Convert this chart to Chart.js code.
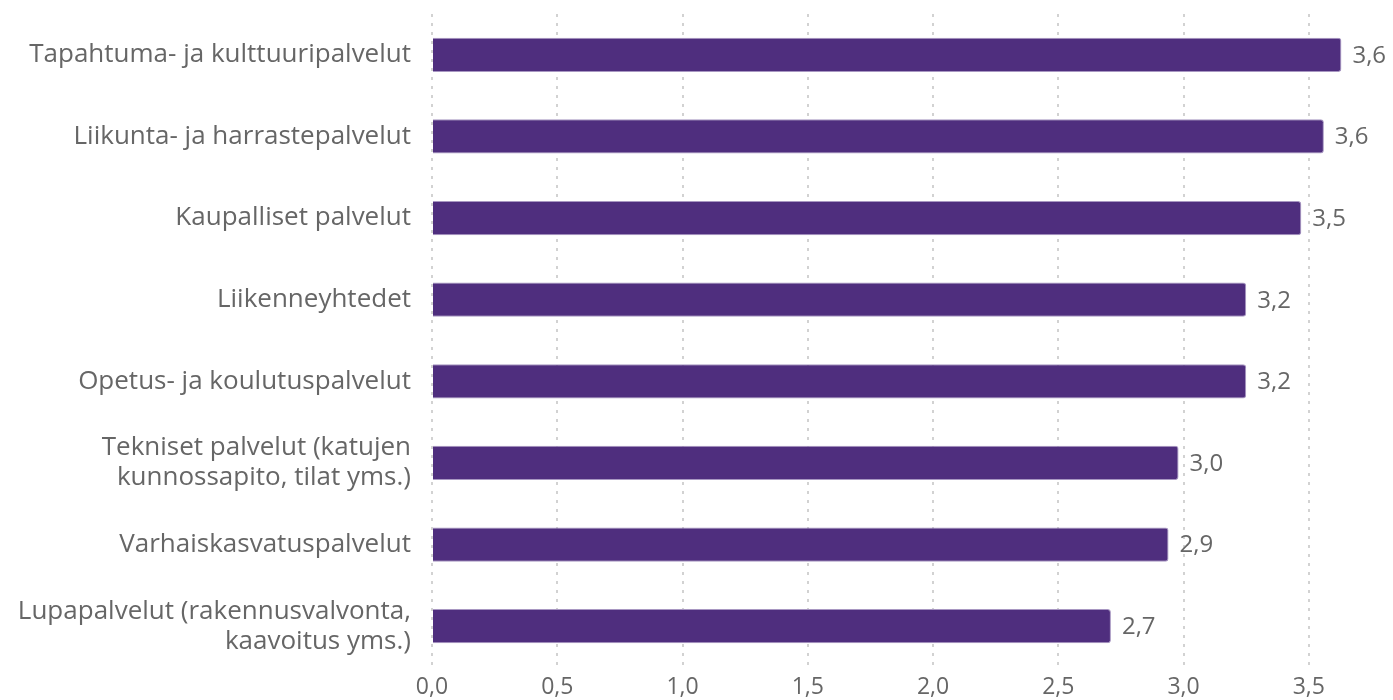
<!DOCTYPE html>
<html>
<head>
<meta charset="utf-8">
<script src="https://cdn.jsdelivr.net/npm/chart.js@4.4.1/dist/chart.umd.min.js"></script>
<style>
  html, body { margin: 0; padding: 0; background: #fff; }
  #wrap { width: 1393px; height: 700px; }
</style>
</head>
<body>
<div id="wrap"><canvas id="chart"></canvas></div>
<script>
const categories = [
    'Tapahtuma- ja kulttuuripalvelut',
    'Liikunta- ja harrastepalvelut',
    'Kaupalliset palvelut',
    'Liikenneyhtedet',
    'Opetus- ja koulutuspalvelut',
    ['Tekniset palvelut (katujen', 'kunnossapito, tilat yms.)'],
    'Varhaiskasvatuspalvelut',
    ['Lupapalvelut (rakennusvalvonta,', 'kaavoitus yms.)']
]
const values = [3.63, 3.56, 3.47, 3.25, 3.25, 2.98, 2.94, 2.71]
const valueLabels = ['3,6', '3,6', '3,5', '3,2', '3,2', '3,0', '2,9', '2,7']

const barColor = '#4f2e7e'
const textColor = '#666666'

// draws the value next to each bar
const valueLabelPlugin = {
    id: 'valueLabels',
    afterDatasetsDraw: function (chart) {
        const ctx = chart.ctx
        const meta = chart.getDatasetMeta(0)
        ctx.save()
        ctx.font = '24px "Open Sans"'
        ctx.fillStyle = textColor
        ctx.textAlign = 'left'
        ctx.textBaseline = 'middle'
        meta.data.forEach((bar, i) => {
            ctx.fillText(valueLabels[i], bar.x + 11, bar.y + 1)
        })
        ctx.restore()
    }
}

new Chart(document.getElementById('chart').getContext('2d'), {
    type: 'bar',
    data: {
        labels: categories,
        datasets: [{
            data: values,
            backgroundColor: barColor,
            borderColor: '#a897c2',
            borderWidth: 1,
            borderRadius: { topRight: 3, bottomRight: 3 },
            borderSkipped: 'left',
            categoryPercentage: 1,
            barPercentage: 0.42
        }]
    },
    options: {
        indexAxis: 'y',
        responsive: true,
        maintainAspectRatio: false,
        animation: false,
        layout: { padding: { top: 14, right: 9, left: 0, bottom: 0 } },
        plugins: {
            legend: { display: false },
            tooltip: { enabled: false }
        },
        scales: {
            x: {
                min: 0,
                max: 3.8,
                border: { display: false, dash: [3, 6] },
                grid: {
                    color: '#d2d2d2',
                    lineWidth: 2,
                    drawTicks: false
                },
                afterBuildTicks: function (scale) {
                    scale.ticks = scale.ticks.filter(t => t.value <= 3.5)
                },
                afterFit: function (scale) {
                    scale.height = 33
                },
                ticks: {
                    stepSize: 0.5,
                    color: textColor,
                    padding: 7,
                    font: { family: 'Open Sans', size: 23 },
                    callback: function (v) {
                        return v.toFixed(1).replace('.', ',')
                    }
                }
            },
            y: {
                border: { display: false },
                grid: { display: false },
                afterFit: function (scale) {
                    scale.width = 432
                    scale.paddingTop = 0
                    scale.paddingBottom = 0
                },
                ticks: {
                    color: textColor,
                    padding: 13,
                    font: { family: 'Open Sans', size: 26, lineHeight: 1.15 }
                }
            }
        }
    },
    plugins: [valueLabelPlugin]
})
</script>
</body>
</html>
